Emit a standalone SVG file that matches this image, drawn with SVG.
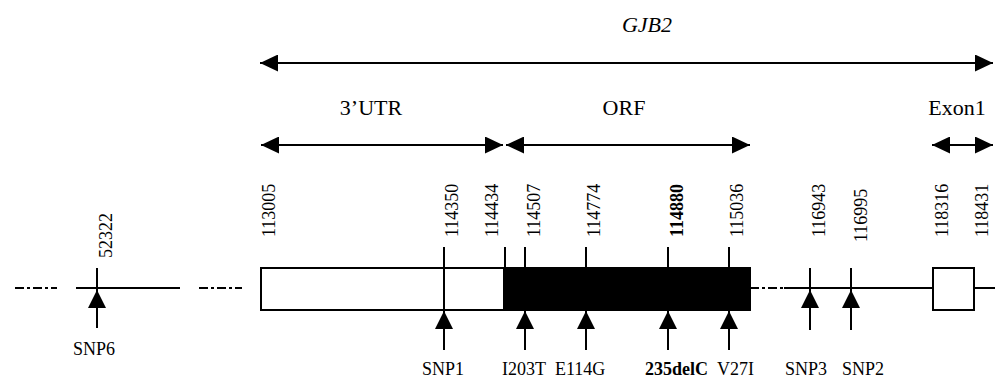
<svg xmlns="http://www.w3.org/2000/svg" width="997" height="378" viewBox="0 0 997 378">
<defs>
<marker id="ah" viewBox="0 0 18 17" refX="18" refY="8.5" markerWidth="18" markerHeight="17" markerUnits="userSpaceOnUse" orient="auto-start-reverse">
<path d="M0,0 L18,8.5 L0,17 Z" fill="#000"/>
</marker>
<marker id="up" viewBox="0 0 18 18" refX="18" refY="9" markerWidth="18" markerHeight="18" markerUnits="userSpaceOnUse" orient="auto">
<path d="M0,0 L18,9 L0,18 Z" fill="#000"/>
</marker>
<style>
text{font-family:"Liberation Serif","Times New Roman",serif;fill:#000}
.lbl{font-size:22px}
.num{font-size:18px}
.mut{font-size:18px}
.b{font-weight:bold}
.ln{stroke:#000;stroke-width:2;fill:none}
.dd{stroke:#000;stroke-width:2;fill:none;stroke-dasharray:9,3,3,3}
.span{stroke:#000;stroke-width:2;fill:none;marker-start:url(#ah);marker-end:url(#ah)}
.arr{stroke:#000;stroke-width:2;fill:none;marker-end:url(#up)}
</style>
</defs>
<rect width="997" height="378" fill="#fff"/>

<g id="spans">
<line class="span" x1="260" y1="63" x2="993" y2="63"/>
<text class="lbl" x="647" y="32" text-anchor="middle" font-style="italic" font-size="21">GJB2</text>
<line class="span" x1="261" y1="145" x2="503" y2="145"/>
<text class="lbl" x="371" y="115" text-anchor="middle">3’UTR</text>
<line class="span" x1="506" y1="145" x2="750" y2="145"/>
<text class="lbl" x="624" y="115" text-anchor="middle">ORF</text>
<line class="span" x1="932" y1="145" x2="993" y2="145"/>
<text class="lbl" x="957" y="115" text-anchor="middle">Exon1</text>
</g>

<g id="backbone">
<line class="dd" x1="15" y1="288" x2="57" y2="288"/>
<line class="ln" x1="76" y1="288" x2="180" y2="288"/>
<line class="dd" x1="199" y1="288" x2="242" y2="288"/>
<line class="dd" x1="750" y1="288" x2="784" y2="288"/>
<line class="ln" x1="784" y1="288" x2="933" y2="288"/>
<line class="ln" x1="974" y1="288" x2="995" y2="288"/>
</g>

<g id="utr-box"><rect x="261" y="268" width="243" height="42" fill="#fff" stroke="#000" stroke-width="2"/></g>
<g id="orf-box"><rect x="504" y="268" width="246" height="42" fill="#000" stroke="#000" stroke-width="2"/></g>
<g id="exon1-box"><rect x="933" y="268" width="41" height="42" fill="#fff" stroke="#000" stroke-width="2"/></g>

<g id="ticks">
<line class="ln" x1="97" y1="268" x2="97" y2="290"/>
<line class="ln" x1="444" y1="247" x2="444" y2="311"/>
<line class="ln" x1="505" y1="247" x2="505" y2="268"/>
<line class="ln" x1="525" y1="247" x2="525" y2="268"/>
<line class="ln" x1="586" y1="247" x2="586" y2="268"/>
<line class="ln" x1="668" y1="247" x2="668" y2="268"/>
<line class="ln" x1="729" y1="247" x2="729" y2="268"/>
<line class="ln" x1="810" y1="268" x2="810" y2="290"/>
<line class="ln" x1="851" y1="268" x2="851" y2="290"/>
</g>

<g id="connectors">
<line class="arr" x1="97" y1="328" x2="97" y2="290"/>
<line class="arr" x1="444" y1="350" x2="444" y2="311"/>
<line class="arr" x1="525" y1="350" x2="525" y2="311"/>
<line class="arr" x1="586" y1="350" x2="586" y2="311"/>
<line class="arr" x1="668" y1="350" x2="668" y2="311"/>
<line class="arr" x1="729" y1="350" x2="729" y2="311"/>
<line class="arr" x1="810" y1="330" x2="810" y2="290"/>
<line class="arr" x1="851" y1="330" x2="851" y2="290"/>
</g>

<g id="positions">
<text class="num" transform="translate(112,258) rotate(-90)">52322</text>
<text class="num" transform="translate(275,237) rotate(-90)">113005</text>
<text class="num" transform="translate(458,237) rotate(-90)">114350</text>
<text class="num" transform="translate(498,237) rotate(-90)">114434</text>
<text class="num" transform="translate(540,237) rotate(-90)">114507</text>
<text class="num" transform="translate(600,237) rotate(-90)">114774</text>
<text class="num b" transform="translate(683,237) rotate(-90)">114880</text>
<text class="num" transform="translate(743,237) rotate(-90)">115036</text>
<text class="num" transform="translate(825,237) rotate(-90)">116943</text>
<text class="num" transform="translate(867,242) rotate(-90)">116995</text>
<text class="num" transform="translate(948,237) rotate(-90)">118316</text>
<text class="num" transform="translate(988,237) rotate(-90)">118431</text>
</g>

<g id="variants">
<text class="mut" x="73" y="355">SNP6</text>
<text class="mut" x="422" y="375">SNP1</text>
<text class="mut" x="502" y="375">I203T</text>
<text class="mut" x="555" y="375">E114G</text>
<text class="mut b" x="645" y="375">235delC</text>
<text class="mut" x="717" y="375">V27I</text>
<text class="mut" x="785" y="375">SNP3</text>
<text class="mut" x="842" y="375">SNP2</text>
</g>
</svg>
